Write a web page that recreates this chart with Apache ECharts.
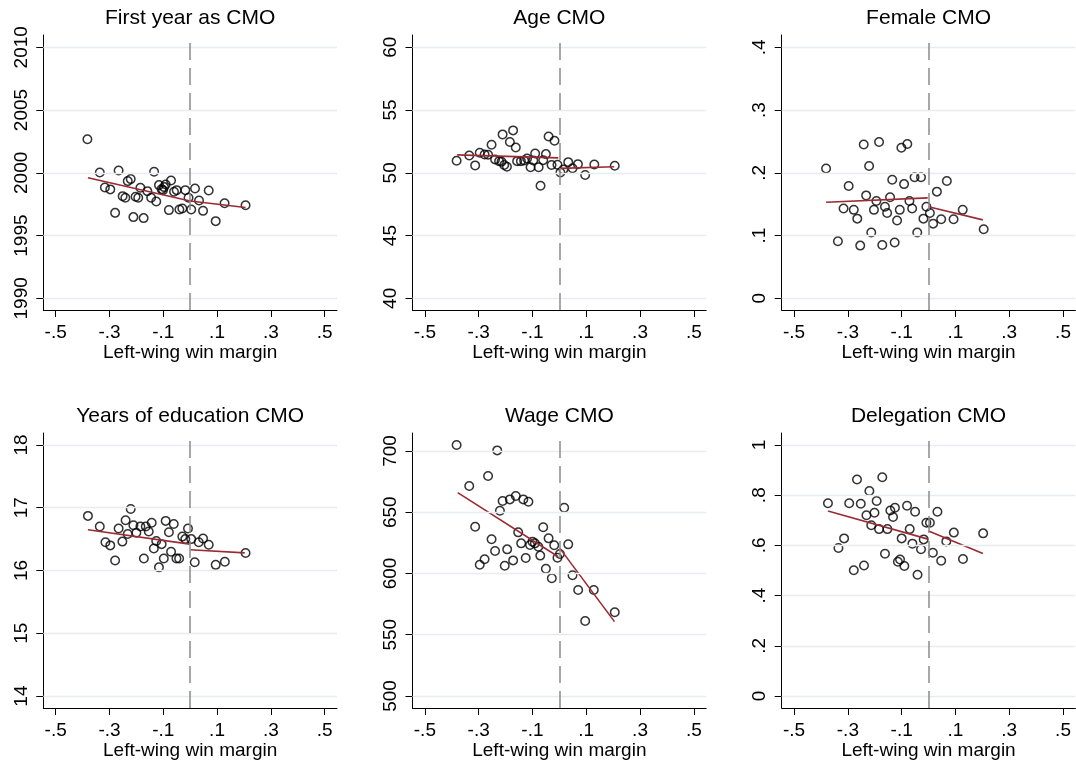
<!DOCTYPE html>
<html>
<head>
<meta charset="utf-8">
<script src="https://cdn.jsdelivr.net/npm/echarts@6/dist/echarts.min.js"></script>
<style>
html, body { margin: 0; padding: 0; background: #fff; }
#chart { width: 1076px; height: 762px; }
</style>
</head>
<body>
<div id="chart"></div>
<script>
// Shared horizontal axis: running variable
const xTicks = [-0.5, -0.3, -0.1, 0.1, 0.3, 0.5];
const xAxisTitle = 'Left-wing win margin';

// Panel titles
const panelTitles = ['First year as CMO', 'Age CMO', 'Female CMO',
                     'Years of education CMO', 'Wage CMO', 'Delegation CMO'];

// Vertical tick values per panel
const yTicksFirstYear = [1990, 1995, 2000, 2005, 2010];
const yTicksAge = [40, 45, 50, 55, 60];
const yTicksFemale = [0, 0.1, 0.2, 0.3, 0.4];
const yTicksEducation = [14, 15, 16, 17, 18];
const yTicksWage = [500, 550, 600, 650, 700];
const yTicksDelegation = [0, 0.2, 0.4, 0.6, 0.8, 1];

// Binned means: First year as CMO
const firstYearX = [-0.382,-0.336,-0.266,-0.134,-0.317,-0.297,-0.279,-0.232,-0.221,-0.251,-0.241,-0.211,-0.173,-0.185,-0.203,-0.193,-0.159,-0.145,-0.126,-0.116,-0.106,-0.097,-0.091,-0.101,-0.071,-0.079,-0.060,-0.050,-0.040,-0.029,-0.018,0.004,-0.006,0.018,0.033,0.048,0.069,0.095,0.128,0.206];
const firstYearY = [2002.68,2000.03,2000.19,2000.08,1998.83,1998.68,1996.81,1999.34,1999.50,1998.14,1998.01,1996.47,1996.39,1998.81,1998.09,1998.01,1998.54,1998.01,1997.72,1999.02,1998.70,1998.86,1999.07,1998.62,1999.39,1997.03,1998.49,1998.62,1997.08,1997.16,1998.62,1997.08,1998.01,1998.75,1997.80,1996.97,1998.59,1996.15,1997.58,1997.42];
const firstYearFitLeft = [[-0.38, 1999.60], [0, 1997.75]];
const firstYearFitRight = [[0, 1997.75], [0.206, 1997.24]];

// Binned means: Age CMO
const ageX = [-0.382,-0.335,-0.313,-0.296,-0.278,-0.265,-0.252,-0.239,-0.224,-0.211,-0.184,-0.172,-0.162,-0.205,-0.195,-0.215,-0.157,-0.143,-0.131,-0.120,-0.107,-0.097,-0.090,-0.077,-0.070,-0.060,-0.050,-0.040,-0.018,-0.029,-0.007,0.004,0.015,0.033,0.049,0.069,0.096,0.130,0.206];
const ageY = [50.96,51.38,50.59,51.60,51.46,51.44,52.23,51.07,50.93,53.06,52.45,53.38,52.02,50.62,50.48,50.88,50.93,50.93,50.99,51.14,50.45,50.99,51.54,50.45,48.97,51.01,51.49,52.90,52.55,50.62,50.64,50.03,50.27,50.85,50.37,50.69,49.82,50.66,50.56];
const ageFitLeft = [[-0.38, 51.43], [-0.004, 51.19]];
const ageFitRight = [[0.002, 50.35], [0.204, 50.48]];

// Binned means: Female CMO
const femaleX = [-0.381,-0.337,-0.297,-0.316,-0.278,-0.265,-0.254,-0.241,-0.232,-0.221,-0.213,-0.203,-0.194,-0.184,-0.172,-0.162,-0.154,-0.143,-0.135,-0.126,-0.117,-0.107,-0.101,-0.091,-0.079,-0.071,-0.061,-0.052,-0.042,-0.028,-0.019,-0.008,0.005,0.017,0.031,0.047,0.068,0.093,0.127,0.205];
const femaleY = [0.207,0.091,0.179,0.143,0.141,0.127,0.084,0.245,0.164,0.211,0.105,0.141,0.155,0.249,0.085,0.146,0.136,0.161,0.189,0.089,0.124,0.141,0.240,0.182,0.246,0.155,0.143,0.193,0.105,0.193,0.127,0.146,0.136,0.119,0.170,0.126,0.187,0.126,0.141,0.110];
const femaleFitLeft = [[-0.381, 0.153], [-0.003, 0.160]];
const femaleFitRight = [[0.0, 0.146], [0.202, 0.125]];

// Binned means: Years of education CMO
const educationX = [-0.380,-0.336,-0.315,-0.297,-0.279,-0.266,-0.252,-0.240,-0.232,-0.221,-0.211,-0.200,-0.185,-0.172,-0.165,-0.154,-0.143,-0.135,-0.126,-0.116,-0.106,-0.098,-0.091,-0.079,-0.071,-0.061,-0.051,-0.041,-0.029,-0.018,-0.008,0.004,0.017,0.032,0.048,0.069,0.095,0.129,0.206];
const educationY = [16.87,16.70,16.45,16.40,16.16,16.67,16.46,16.80,16.58,16.98,16.72,16.60,16.70,16.19,16.70,16.62,16.76,16.35,16.47,16.05,16.42,16.19,16.79,16.61,16.30,16.74,16.19,16.19,16.54,16.50,16.67,16.50,16.13,16.45,16.51,16.41,16.09,16.14,16.28];
const educationFitLeft = [[-0.380, 16.65], [-0.002, 16.42]];
const educationFitRight = [[0.001, 16.33], [0.203, 16.28]];

// Binned means: Wage CMO
const wageX = [-0.382,-0.231,-0.265,-0.335,-0.211,-0.184,-0.162,-0.134,-0.115,-0.221,-0.313,-0.252,-0.153,-0.060,0.018,-0.040,-0.142,-0.100,-0.091,-0.109,-0.078,-0.019,0.033,-0.239,-0.194,-0.278,-0.296,-0.203,-0.172,-0.125,-0.071,-0.007,0.002,-0.050,-0.028,0.049,0.070,0.128,0.096,0.206];
const wageY = [704.9,700.5,679.6,671.4,659.2,660.5,663.3,660.5,658.6,651.2,638.2,627.9,633.6,637.7,653.7,628.7,624.6,626.0,624.6,623.3,621.9,623.0,623.8,618.4,619.7,611.6,607.2,606.4,610.7,612.7,614.6,612.9,615.9,603.9,596.1,598.5,586.5,586.5,561.2,568.3];
const wageFitLeft = [[-0.378, 666.0], [-0.004, 613.7]];
const wageFitRight = [[0.002, 620.5], [0.205, 560.7]];

// Binned means: Delegation CMO
const delegationX = [-0.374,-0.335,-0.314,-0.295,-0.278,-0.266,-0.252,-0.240,-0.231,-0.220,-0.213,-0.201,-0.193,-0.184,-0.172,-0.162,-0.153,-0.142,-0.132,-0.125,-0.114,-0.106,-0.100,-0.090,-0.080,-0.070,-0.060,-0.050,-0.041,-0.028,-0.018,-0.008,0.005,0.016,0.033,0.047,0.066,0.094,0.128,0.203];
const delegationY = [0.768,0.590,0.628,0.768,0.501,0.863,0.766,0.520,0.720,0.817,0.680,0.730,0.777,0.665,0.872,0.567,0.665,0.739,0.713,0.750,0.535,0.544,0.628,0.518,0.758,0.665,0.607,0.734,0.483,0.585,0.624,0.690,0.690,0.571,0.734,0.539,0.616,0.651,0.546,0.648];
const delegationFitLeft = [[-0.374, 0.737], [-0.002, 0.625]];
const delegationFitRight = [[0.0, 0.657], [0.202, 0.568]];

const panels = [
  { title: panelTitles[0], x: firstYearX, y: firstYearY, fitL: firstYearFitLeft, fitR: firstYearFitRight, ticks: yTicksFirstYear, min: 1989.07, max: 2010.98 },
  { title: panelTitles[1], x: ageX, y: ageY, fitL: ageFitLeft, fitR: ageFitRight, ticks: yTicksAge, min: 39.07, max: 60.98 },
  { title: panelTitles[2], x: femaleX, y: femaleY, fitL: femaleFitLeft, fitR: femaleFitRight, ticks: yTicksFemale, min: -0.0186, max: 0.4196 },
  { title: panelTitles[3], x: educationX, y: educationY, fitL: educationFitLeft, fitR: educationFitRight, ticks: yTicksEducation, min: 13.81, max: 18.19 },
  { title: panelTitles[4], x: wageX, y: wageY, fitL: wageFitLeft, fitR: wageFitRight, ticks: yTicksWage, min: 490.2, max: 714.7 },
  { title: panelTitles[5], x: delegationX, y: delegationY, fitL: delegationFitLeft, fitR: delegationFitRight, ticks: yTicksDelegation, min: -0.048, max: 1.048 }
];

// Stata-style number labels: drop the leading zero (".5", "-.3")
function fmt(v) {
  const s = String(Math.round(v * 1000) / 1000);
  return s.replace(/^0\./, '.').replace(/^-0\./, '-.');
}

const FONT = "'Liberation Sans', Arial, Helvetica, sans-serif";
const FIT_COLOR = '#9b2a33';
const GRID_COLOR = '#e5edf0';

const colLeft = [43.3, 412.5, 781.7];
const rowTop = [35, 433];
const plotW = 293.7, plotH = 275;

const grids = [], xAxes = [], yAxes = [], series = [], graphics = [];

panels.forEach((p, i) => {
  const col = i % 3, row = Math.floor(i / 3);
  const left = colLeft[col], top = rowTop[row];
  grids.push({ left: left, top: top, width: plotW, height: plotH, containLabel: false });

  graphics.push({
    type: 'text', x: left + plotW / 2, y: top - 27,
    style: { text: p.title, fontSize: 21, fontFamily: FONT, fill: '#000',
             textAlign: 'center', textVerticalAlign: 'top' }
  });

  xAxes.push({
    type: 'value', gridIndex: i, min: -0.546, max: 0.546,
    name: xAxisTitle, nameLocation: 'middle', nameGap: 29,
    nameTextStyle: { fontSize: 19, fontFamily: FONT, color: '#000' },
    axisLine: { show: true, onZero: false, lineStyle: { color: '#000', width: 1 } },
    axisTick: { show: true, length: 7, customValues: xTicks, lineStyle: { color: '#000', width: 1 } },
    axisLabel: { customValues: xTicks, formatter: fmt, fontSize: 19, fontFamily: FONT, color: '#000', margin: 13 },
    splitLine: { show: false }
  });

  yAxes.push({
    type: 'value', gridIndex: i, min: p.min, max: p.max,
    axisLine: { show: true, onZero: false, lineStyle: { color: '#000', width: 1 } },
    axisTick: { show: true, length: 7, customValues: p.ticks, lineStyle: { color: '#000', width: 1 } },
    axisLabel: { customValues: p.ticks, formatter: fmt, rotate: 90, fontSize: 19, fontFamily: FONT, color: '#000', margin: 12 },
    splitLine: { show: false }
  });

  const gridLines = p.ticks.map(v => ({ yAxis: v, lineStyle: { color: GRID_COLOR, width: 1.3, type: 'solid' } }));
  const cutoff = { xAxis: 0, lineStyle: { color: '#8a8a8a', width: 1.5, type: [17, 8] } };

  // reference lines sit beneath the points
  series.push({
    type: 'line', xAxisIndex: i, yAxisIndex: i, data: [], silent: true, z: 1,
    markLine: { silent: true, symbol: ['none', 'none'], label: { show: false }, animation: false,
                data: gridLines.concat([cutoff]) }
  });

  series.push({
    type: 'scatter', xAxisIndex: i, yAxisIndex: i, z: 3,
    data: p.x.map((xv, k) => [xv, p.y[k]]),
    symbol: 'circle', symbolSize: 8.5,
    itemStyle: { color: 'rgba(255,255,255,0)', borderColor: '#000', borderWidth: 1.5 },
    animation: false
  });

  [p.fitL, p.fitR].forEach(seg => {
    series.push({
      type: 'line', xAxisIndex: i, yAxisIndex: i, z: 4, data: seg,
      showSymbol: false, symbol: 'none',
      lineStyle: { color: FIT_COLOR, width: 1.6 }, animation: false
    });
  });
});

const chart = echarts.init(document.getElementById('chart'), null, { renderer: 'canvas' });
chart.setOption({
  backgroundColor: '#fff',
  animation: false,
  grid: grids,
  xAxis: xAxes,
  yAxis: yAxes,
  series: series,
  graphic: graphics
});
</script>
</body>
</html>
